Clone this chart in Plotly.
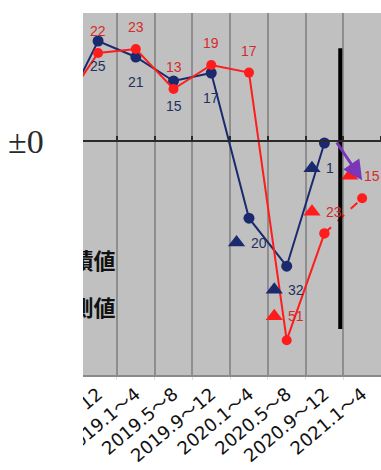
import plotly.graph_objects as go

# ---- data ----
categories = ["2018.5～8", "2018.9～12", "2019.1～4", "2019.5～8", "2019.9～12",
              "2020.1～4", "2020.5～8", "2020.9～12", "2021.1～4"]
cat_index = [-1, 0, 1, 2, 3, 4, 5, 6, 7]

blue_actual = [6, 25, 21, 15, 17, -19.3, -31.3, -0.5]          # indices -1..6
red_actual = [8, 22, 23, 13, 19, 17.1, -49.8, -23.1]            # indices -1..6
red_next = [-23.1, -14.3]                                        # indices 6..7 (dashed)

blue_label_idx = [0, 1, 2, 3]
blue_labels = ["25", "21", "15", "17"]
red_label_idx = [0, 1, 2, 3, 4]
red_labels = ["22", "23", "13", "19", "17"]

blue_tri_idx = [4, 5, 6]
blue_tri_vals = [-25.4, -37.2, -6.8]
blue_tri_labels = ["20", "32", "1"]
red_tri_idx = [5, 6, 7]
red_tri_vals = [-43.8, -17.7, -8.7]
red_tri_labels = ["51", "23", "15"]

arrow_from = (6.3, 0.0)
arrow_to = (7.0, -9.8)
divider_x = 6.42
divider_y = (23.2, -47.0)

legend_texts = ["実績値", "予測値"]
legend_y = [-30.6, -42.4]

# ---- style ----
RED = "#ff1c1c"
RED_TXT = "#d62a2a"
BLUE = "#1b2a6e"
BLUE_TXT = "#22305e"
BG = "#c0c0c0"
TRI_OFF = -0.33
YMIN, YMAX = -58.5, 32
XMIN, XMAX = -0.4, 7.5

# tick text: wide tilde taken from the CJK font
tick_text = [c.replace("～", "<span style='font-family:Noto Sans CJK JP'>～</span>")
             for c in categories]

fig = go.Figure()

fig.add_trace(go.Scatter(x=cat_index[:len(blue_actual)], y=blue_actual, mode="lines+markers",
                         line=dict(color=BLUE, width=2), marker=dict(color=BLUE, size=11),
                         cliponaxis=True, showlegend=False))
fig.add_trace(go.Scatter(x=cat_index[:len(red_actual)], y=red_actual, mode="lines+markers",
                         line=dict(color=RED, width=2), marker=dict(color=RED, size=10),
                         cliponaxis=True, showlegend=False))
fig.add_trace(go.Scatter(x=[6, 7], y=red_next, mode="lines+markers",
                         line=dict(color=RED, width=2, dash="dash"), marker=dict(color=RED, size=10),
                         showlegend=False))
fig.add_trace(go.Scatter(x=[i + TRI_OFF for i in blue_tri_idx], y=blue_tri_vals, mode="markers",
                         marker=dict(symbol="triangle-up", color=BLUE, size=15), showlegend=False))
fig.add_trace(go.Scatter(x=[i + TRI_OFF for i in red_tri_idx], y=red_tri_vals, mode="markers",
                         marker=dict(symbol="triangle-up", color=RED, size=15), showlegend=False))

# divider line
fig.add_trace(go.Scatter(x=[divider_x, divider_x], y=list(divider_y), mode="lines",
                         line=dict(color="#000000", width=4), showlegend=False))

# legend-like text, clipped by plot area
fig.add_trace(go.Scatter(x=[XMIN + 0.86, XMIN + 0.86], y=legend_y, mode="text",
                         text=legend_texts, textposition="middle left",
                         textfont=dict(family="Noto Sans CJK JP", size=22, color="#111111",
                                       weight="bold"),
                         cliponaxis=True, showlegend=False))

# dummy trace for zero-line axis
fig.add_trace(go.Scatter(x=[0], y=[0], xaxis="x2", mode="markers", marker=dict(opacity=0),
                         hoverinfo="skip", showlegend=False))

ann = []
for i, t in zip(red_label_idx, red_labels):
    ann.append(dict(x=i, y=red_actual[i + 1], text=t, showarrow=False, yshift=22,
                    font=dict(family="Liberation Sans", size=14, color=RED_TXT)))
for i, t in zip(blue_label_idx, blue_labels):
    ann.append(dict(x=i, y=blue_actual[i + 1], text=t, showarrow=False, yshift=-25,
                    font=dict(family="Liberation Sans", size=14, color=BLUE_TXT)))
for i, v, t in zip(blue_tri_idx, blue_tri_vals, blue_tri_labels):
    ann.append(dict(x=i + TRI_OFF, y=v, text=t, showarrow=False, xanchor="left", xshift=12,
                    font=dict(family="Liberation Sans", size=14, color=BLUE_TXT)))
for i, v, t in zip(red_tri_idx, red_tri_vals, red_tri_labels):
    ann.append(dict(x=i + TRI_OFF, y=v, text=t, showarrow=False, xanchor="left", xshift=12,
                    font=dict(family="Liberation Sans", size=14, color=RED_TXT)))
ann.append(dict(x=arrow_to[0], y=arrow_to[1], ax=arrow_from[0], ay=arrow_from[1],
                xref="x", yref="y", axref="x", ayref="y", text="", showarrow=True,
                arrowhead=2, arrowsize=1.3, arrowwidth=3, arrowcolor="#7a35b8"))
ann.append(dict(x=-0.19, xref="paper", y=0, yref="y", text="±0", showarrow=False,
                xanchor="center", yanchor="middle",
                font=dict(family="Liberation Serif", size=34, color="#2a2a2a")))

fig.update_layout(
    width=381, height=470,
    margin=dict(l=83, r=0, t=13, b=95),
    paper_bgcolor="white", plot_bgcolor=BG,
    annotations=ann,
    shapes=[dict(type="rect", xref="paper", yref="paper", x0=-0.5, x1=0, y0=-0.5, y1=1.5,
                 fillcolor="white", line=dict(width=0), layer="above")],
    xaxis=dict(range=[XMIN, XMAX], tickmode="array", tickvals=cat_index, ticktext=tick_text,
               tickangle=-40, ticks="", showgrid=False, zeroline=False,
               showline=True, linecolor="#8a8a8a", linewidth=1.5,
               tickfont=dict(family="DejaVu Sans", size=18, color="#111111"),
               minor=dict(tick0=0.5, dtick=1, showgrid=True, gridcolor="#8e8e8e", gridwidth=1.5,
                          ticks="outside", ticklen=3, tickcolor="#dddddd")),
    xaxis2=dict(overlaying="x", matches="x", anchor="free",
                position=(0 - YMIN) / (YMAX - YMIN), side="top",
                showline=True, linecolor="#2a2a2a", linewidth=1.5,
                tickmode="linear", tick0=0.5, dtick=1, ticks="outside", ticklen=4,
                tickcolor="#2a2a2a", tickwidth=1.5, showticklabels=False,
                showgrid=False, zeroline=False),
    yaxis=dict(range=[YMIN, YMAX], showticklabels=False, showgrid=False, zeroline=False, ticks=""),
)

fig.write_html("out.html")
